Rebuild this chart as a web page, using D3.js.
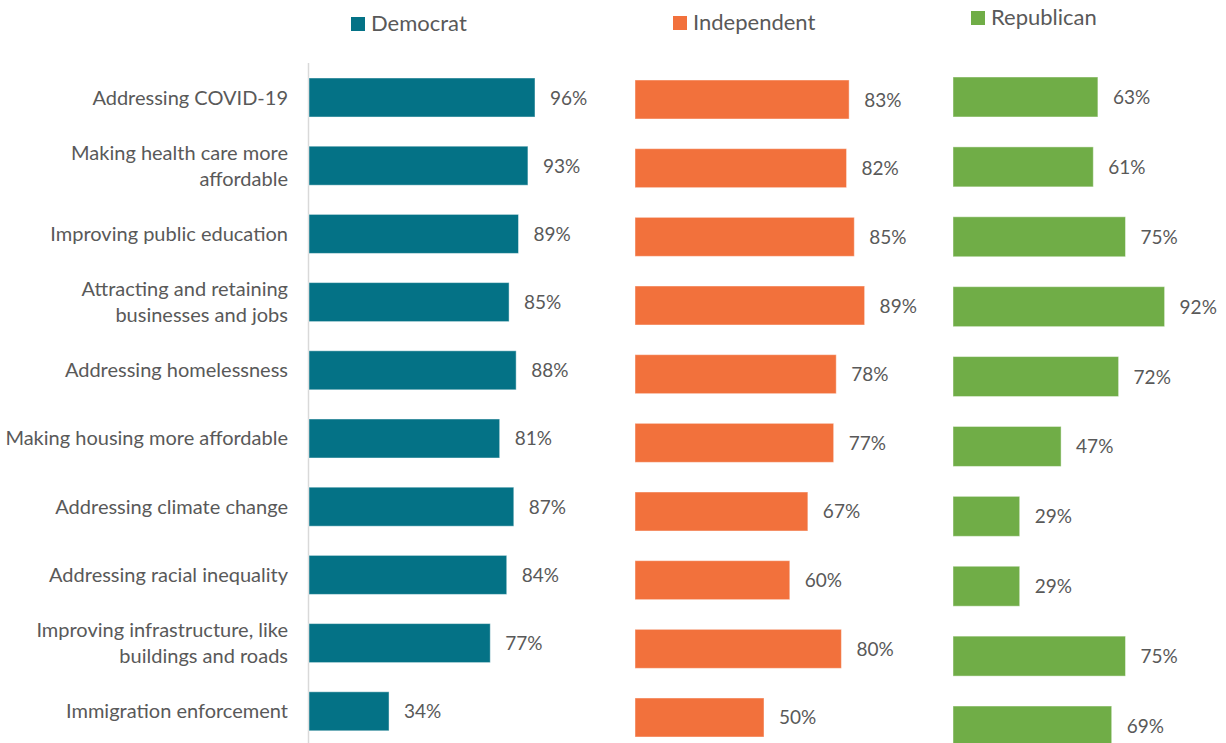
<!DOCTYPE html>
<html>
<head>
<meta charset="utf-8">
<script src="https://cdn.jsdelivr.net/npm/d3@7"></script>
<style>
  html, body { margin: 0; padding: 0; background: #ffffff; }
  svg { display: block; font-family: Lato, "Open Sans", sans-serif; }
</style>
</head>
<body>
<svg id="chart" width="1226" height="743"></svg>
<script>
// Issue priorities by party (% of respondents)
const issues = [
  ["Addressing COVID-19"],
  ["Making health care more", "affordable"],
  ["Improving public education"],
  ["Attracting and retaining", "businesses and jobs"],
  ["Addressing homelessness"],
  ["Making housing more affordable"],
  ["Addressing climate change"],
  ["Addressing racial inequality"],
  ["Improving infrastructure, like", "buildings and roads"],
  ["Immigration enforcement"]
];
const parties = ["Democrat", "Independent", "Republican"];
const democrat    = [96, 93, 89, 85, 88, 81, 87, 84, 77, 34];
const independent = [83, 82, 85, 89, 78, 77, 67, 60, 80, 50];
const republican  = [63, 61, 75, 92, 72, 47, 29, 29, 75, 69];

const colors = { Democrat: "#047286", Independent: "#F2713C", Republican: "#70AD47" };
const textColor = "#595959";

// Each party is its own small panel with its own frame
const panels = [
  { name: "Democrat",    values: democrat,    x0: 309, width: 235.4, y0: 78, y1: 730.8, pad: 0.428,
    legend: { x: 351, y: 17, size: 14 } },
  { name: "Independent", values: independent, x0: 635, width: 258,   y0: 80, y1: 737,   pad: 0.432,
    legend: { x: 673, y: 16, size: 14 } },
  { name: "Republican",  values: republican,  x0: 953, width: 230,   y0: 77, y1: 746,   pad: 0.428,
    legend: { x: 971, y: 11, size: 14 } }
];

const svg = d3.select("#chart");
const idx = d3.range(issues.length);

panels.forEach((p, pi) => {
  const x = d3.scaleLinear().domain([0, 100]).range([p.x0, p.x0 + p.width]);
  const y = d3.scaleBand().domain(idx).range([p.y0, p.y1]).paddingInner(p.pad).paddingOuter(0);
  const g = svg.append("g").attr("class", "panel-" + p.name);

  // vertical category axis line on the first panel
  if (pi === 0) {
    g.append("line")
      .attr("x1", p.x0 - 0.5).attr("x2", p.x0 - 0.5)
      .attr("y1", 63).attr("y2", 743)
      .attr("stroke", "#d9d9d9").attr("stroke-width", 1.5);

    // category labels, right-aligned against the axis
    const lab = g.selectAll("text.cat").data(idx).enter().append("text")
      .attr("class", "cat")
      .attr("text-anchor", "end")
      .attr("fill", textColor)
      .style("font-size", "20px")
      .attr("x", 288)
      .attr("y", i => y(i) + y.bandwidth() / 2);
    lab.each(function (i) {
      const lines = issues[i];
      const lh = 26;
      const t = d3.select(this);
      lines.forEach((ln, k) => {
        t.append("tspan")
          .attr("x", 288)
          .attr("dy", k === 0 ? ((-(lines.length - 1) * lh / 2) + 7) : lh)
          .text(ln);
      });
    });
  }

  // bars
  g.selectAll("rect.bar").data(idx).enter().append("rect")
    .attr("class", "bar")
    .attr("x", x(0))
    .attr("y", i => y(i))
    .attr("width", i => x(p.values[i]) - x(0))
    .attr("height", y.bandwidth())
    .attr("fill", colors[p.name])
    .attr("stroke", "#ffffff").attr("stroke-opacity", 0.45).attr("stroke-width", 1);

  // value labels
  g.selectAll("text.val").data(idx).enter().append("text")
    .attr("class", "val")
    .attr("x", i => x(p.values[i]) + 15)
    .attr("y", i => y(i) + y.bandwidth() / 2 + 7)
    .attr("fill", textColor)
    .style("font-size", "19px")
    .text(i => p.values[i] + "%");

  // legend entry
  const lg = g.append("g").attr("class", "legend");
  lg.append("rect")
    .attr("x", p.legend.x).attr("y", p.legend.y)
    .attr("width", p.legend.size).attr("height", p.legend.size)
    .attr("fill", colors[p.name]);
  lg.append("text")
    .attr("x", p.legend.x + p.legend.size + 6)
    .attr("y", p.legend.y + p.legend.size)
    .attr("fill", textColor)
    .style("font-size", "22px")
    .text(p.name);
});
</script>
</body>
</html>
